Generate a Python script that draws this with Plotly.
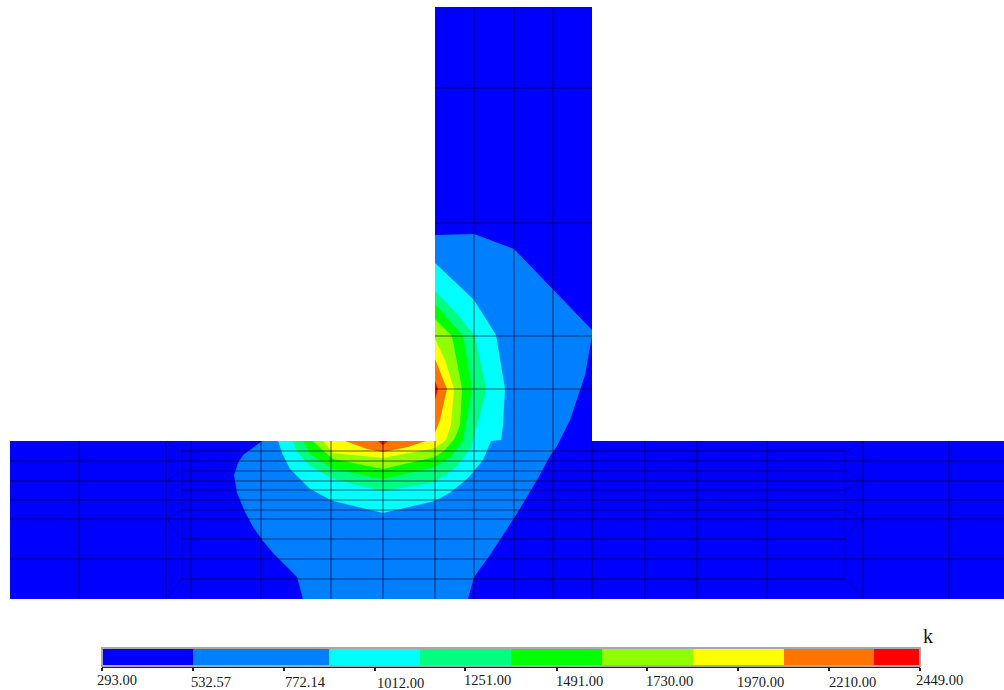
import numpy as np
import plotly.graph_objects as go

# Section outline and isotherm bands, in the picture's own length units
section_x = [10, 435, 435, 592, 592, 1004, 1004, 10, 10]
section_y = [441, 441, 7, 7, 441, 441, 599, 599, 441]

azure_x = [435, 474, 514, 592, 592, 585, 570, 557, 550, 537, 516, 490, 474, 468, 303, 300, 297, 285, 273, 263, 253, 245, 237, 234, 238, 243, 262, 435, 435]
azure_y = [235, 234, 249, 330, 336, 375, 420, 446, 456, 480, 515, 555, 577, 599, 599, 587, 577, 565, 553, 541, 527, 512, 493, 475, 463, 455, 441, 441, 235]
cyan_x = [435, 474, 496, 505, 503, 501, 491, 483, 468, 451, 435, 383, 333, 310, 290, 282, 278, 435, 435]
cyan_y = [263, 300, 335, 389, 425, 440, 441, 460, 478, 492, 501, 513, 501, 489, 469, 453, 441, 441, 263]
spring_x = [435, 458, 475, 486, 485, 476, 471, 455, 435, 383, 333, 310, 298, 292, 435, 435]
spring_y = [291, 315, 336, 389, 395, 428, 448, 468, 482, 491, 479, 466, 453, 441, 441, 291]
green_x = [435, 463, 472, 466, 463, 451, 435, 383, 333, 310, 303, 435, 435]
green_y = [304, 336, 389, 425, 440, 457, 467, 479, 469, 454, 441, 441, 304]
lime_x = [435, 452, 462, 460, 455, 445, 435, 383, 333, 320, 313, 435, 435]
lime_y = [319, 336, 389, 425, 438, 450, 457, 469, 459, 448, 441, 441, 319]
yellow_x = [435, 445, 454, 451, 446, 435, 383, 333, 323, 435, 435]
yellow_y = [339, 360, 389, 425, 440, 448, 458, 453, 441, 441, 339]
orange_web_x = [435, 447, 440, 435, 435]
orange_web_y = [359, 389, 420, 433, 359]
orange_flange_x = [345, 367, 383, 408, 426, 345]
orange_flange_y = [441, 449, 452, 447, 441, 441]
red_web_x = [435, 438, 435, 435]
red_web_y = [381, 389, 400, 381]
red_flange_x = [378, 383, 388, 378]
red_flange_y = [441, 445, 441, 441]

# Element mesh
web_rows = [88, 223, 336, 389]
web_cols = [474, 514, 553]
flange_cols = [79, 166, 191, 261, 331, 383, 435, 474, 514, 553, 592, 645, 697, 767, 863, 949]
flange_rows = [461, 481, 500, 519, 559]
fine_rows = [451, 471, 490, 510, 539, 579]
transition_left_x = [182, 182, None, 167, 182, None, 182, 167, 182, None, 182, 167, 182, None, 182, 167]
transition_left_y = [451, 579, None, 441, 453, None, 470, 481, 490, None, 510, 519, 539, None, 579, 598]
transition_right_x = [845, 845, None, 863, 845, None, 845, 863, 845, None, 845, 863, 845, None, 845, 863]
transition_right_y = [451, 579, None, 441, 453, None, 470, 481, 490, None, 510, 519, 539, None, 579, 598]

# Colour scale
band_edges = [293, 532.57, 892, 1131, 1371, 1610, 1850, 2090, 2329, 2449]
band_colors = ["#0000ff", "#0080ff", "#00ffff", "#00ff80", "#00ff00",
               "#90ff00", "#ffff00", "#ff7400", "#ff0000"]
tick_values = [293, 532.57, 772.14, 1012, 1251, 1491, 1730, 1970, 2210, 2449]
tick_labels = ["293.00", "532.57", "772.14", "1012.00", "1251.00",
               "1491.00", "1730.00", "1970.00", "2210.00", "2449.00"]
label_shift = [15, 18, 22, 26, 22, 23, 22, 22, 23, 19]
label_row = [680, 682, 682, 683, 680, 681, 681, 682, 682, 680]
unit_label = "k"

fig = go.Figure()


def patch(xs, ys, color):
    fig.add_trace(go.Scatter(x=xs, y=ys, mode="lines", fill="toself", fillcolor=color,
                             line=dict(width=0, color=color), hoverinfo="skip",
                             showlegend=False, xaxis="x", yaxis="y"))


patch(section_x, section_y, band_colors[0])
patch(azure_x, azure_y, band_colors[1])
patch(cyan_x, cyan_y, band_colors[2])
patch(spring_x, spring_y, band_colors[3])
patch(green_x, green_y, band_colors[4])
patch(lime_x, lime_y, band_colors[5])
patch(yellow_x, yellow_y, band_colors[6])
patch(orange_web_x, orange_web_y, band_colors[7])
patch(orange_flange_x, orange_flange_y, band_colors[7])
patch(red_web_x, red_web_y, band_colors[8])
patch(red_flange_x, red_flange_y, band_colors[8])

mesh_x, mesh_y = [], []
for r in web_rows:
    mesh_x += [435, 592, None]; mesh_y += [r, r, None]
for c in web_cols:
    mesh_x += [c, c, None]; mesh_y += [7, 441, None]
for c in flange_cols:
    mesh_x += [c, c, None]; mesh_y += [441, 599, None]
for r in flange_rows:
    mesh_x += [10, 1004, None]; mesh_y += [r, r, None]
for r in fine_rows:
    mesh_x += [182, 845, None]; mesh_y += [r, r, None]
fig.add_trace(go.Scatter(x=mesh_x, y=mesh_y, mode="lines",
                         line=dict(color="rgba(0,0,30,0.42)", width=1.6),
                         hoverinfo="skip", showlegend=False, xaxis="x", yaxis="y"))
fig.add_trace(go.Scatter(x=transition_left_x + [None] + transition_right_x,
                         y=transition_left_y + [None] + transition_right_y, mode="lines",
                         line=dict(color="rgba(0,0,30,0.2)", width=1.4),
                         hoverinfo="skip", showlegend=False, xaxis="x", yaxis="y"))

widths = np.diff(band_edges).tolist()
for start, w, col in zip(band_edges[:-1], widths, band_colors):
    fig.add_trace(go.Bar(y=[0], x=[w], base=[start], orientation="h",
                         marker=dict(color=col, opacity=1, line=dict(width=0)),
                         width=1, hoverinfo="skip", showlegend=False, xaxis="x2", yaxis="y2"))

annotations = [dict(x=v, y=r, xref="x2", yref="y", text=t, showarrow=False, xshift=s,
                    font=dict(family="Liberation Serif", size=14.5, color="#1a1a1a"))
               for v, r, t, s in zip(tick_values, label_row, tick_labels, label_shift)]
annotations.append(dict(x=2449, y=636, xref="x2", yref="y", text=unit_label, showarrow=False, xshift=8,
                        font=dict(family="Liberation Serif", size=20, color="#111111")))

H = 690.0
W = 1004.0
fig.update_layout(
    width=1004, height=690, margin=dict(l=0, r=0, t=0, b=0),
    paper_bgcolor="white", plot_bgcolor="rgba(0,0,0,0)", barmode="overlay", bargap=0,
    xaxis=dict(range=[0, 1004], domain=[0, 1], visible=False, fixedrange=True),
    yaxis=dict(range=[690, 0], domain=[0, 1], visible=False, fixedrange=True),
    xaxis2=dict(range=[293, 2449], domain=[102 / W, 920 / W], anchor="y2", tickmode="array",
                tickvals=tick_values, ticktext=[""] * len(tick_values), ticks="outside", ticklen=3,
                tickwidth=1.5, tickcolor="#222222", showline=True, linecolor="#222222", linewidth=1.5,
                showgrid=False, zeroline=False, fixedrange=True),
    yaxis2=dict(range=[-0.5, 0.5], domain=[(H - 666) / H, (H - 648) / H], anchor="x2", visible=False,
                fixedrange=True),
    annotations=annotations,
    shapes=[dict(type="rect", xref="x2 domain", yref="y2 domain", x0=0, x1=1, y0=0, y1=1,
                 line=dict(color="#a8a8a8", width=2), layer="above")],
)

fig.write_html("out.html", config={"displayModeBar": False},
               post_script="document.body.style.margin='0';")
